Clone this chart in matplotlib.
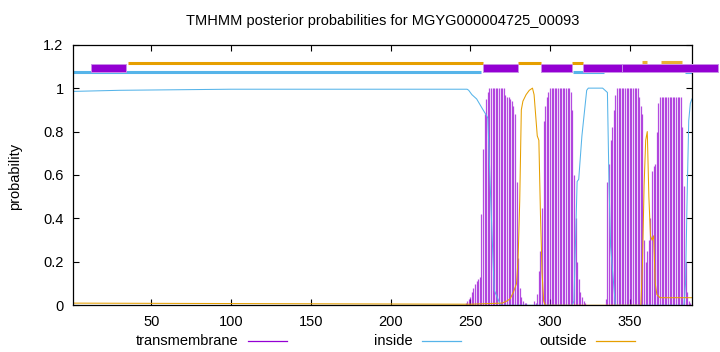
import matplotlib
matplotlib.use("Agg")
import matplotlib.pyplot as plt
from matplotlib.patches import Rectangle
from matplotlib.lines import Line2D

plt.rcParams['font.family'] = ['Liberation Sans', 'DejaVu Sans']

seq_len = 389
title = "TMHMM posterior probabilities for MGYG000004725_00093"

# transmembrane posterior, one value per residue starting at tm_start
tm_start = 245
tm_prob = [0.0, 0.0, 0.01, 0.02, 0.03, 0.04, 0.06, 0.08, 0.10, 0.11,
           0.12, 0.13, 0.42, 0.72, 0.88, 0.95, 0.98, 1.0, 1.0, 1.0,
           1.0, 1.0, 1.0, 1.0, 1.0, 1.0, 1.0, 0.97, 0.96, 0.96,
           0.95, 0.94, 0.92, 0.88, 0.57, 0.22, 0.08, 0.04, 0.02, 0.01,
           0.01, 0.0, 0.0, 0.0, 0.0, 0.02, 0.01, 0.05, 0.16, 0.25,
           0.45, 0.85, 0.92, 0.96, 0.98, 1.0, 1.0, 1.0, 1.0, 1.0,
           1.0, 1.0, 1.0, 1.0, 1.0, 1.0, 1.0, 1.0, 0.98, 0.9,
           0.6, 0.4, 0.2, 0.12, 0.06, 0.04, 0.02, 0.01, 0.0, 0.0,
           0.0, 0.0, 0.0, 0.0, 0.0, 0.0, 0.0, 0.0, 0.0, 0.0,
           0.03, 0.57, 0.65, 0.76, 0.82, 0.9, 0.97, 1.0, 1.0, 1.0,
           1.0, 1.0, 1.0, 1.0, 1.0, 1.0, 1.0, 1.0, 1.0, 1.0,
           1.0, 0.96, 0.92, 0.88, 0.3, 0.2, 0.25, 0.3, 0.4, 0.62,
           0.64, 0.65, 0.8, 0.93, 0.96, 0.96, 0.96, 0.96, 0.96, 0.96,
           0.96, 0.96, 0.96, 0.96, 0.96, 0.96, 0.96, 0.96, 0.82, 0.55,
           0.2, 0.06, 0.02, 0.01]

# inside posterior (residue, probability)
inside_x = [1, 30, 100, 240, 248, 249, 251, 254, 258, 260.5, 261, 263, 265, 269,
            314, 315, 317, 318, 320, 323, 324, 333, 336, 337, 338, 341,
            384, 385, 386, 387, 388, 389]
inside_y = [0.985, 0.99, 0.995, 0.995, 0.995, 0.99, 0.97, 0.95, 0.9, 0.87, 0.86, 0.45, 0.07, 0.0,
            0.0, 0.02, 0.57, 0.58, 0.78, 0.99, 1.0, 1.0, 0.98, 0.56, 0.27, 0.0,
            0.0, 0.1, 0.5, 0.85, 0.93, 0.95]

# outside posterior (residue, probability)
outside_x = [1, 100, 250, 270, 273, 275, 277, 279, 280, 281, 282, 283, 285, 287,
             289, 290, 292, 293, 294, 295, 296, 297, 357, 358, 359, 360, 361,
             362, 363, 364, 365, 366, 367, 369, 389]
outside_y = [0.01, 0.008, 0.005, 0.01, 0.02, 0.03, 0.06, 0.1, 0.22, 0.48, 0.9, 0.94, 0.97, 0.99,
             1.0, 0.97, 0.78, 0.76, 0.42, 0.15, 0.02, 0.0, 0.0, 0.2, 0.55, 0.76, 0.8,
             0.5, 0.32, 0.3, 0.32, 0.1, 0.05, 0.035, 0.035]

# topology annotation along the top
inside_segs = [(1, 256.6), (314.7, 333.6), (384.6, 389)]
outside_segs = [(35.2, 258), (280, 294.5), (314, 320.6)]
outside_hi_segs = [(357.6, 360.7), (369.8, 383)]
tm_boxes = [(12.2, 33.9), (257.9, 279.9), (294.5, 314), (320.6, 361), (345, 405.5)]

c_tm = '#9400D3'
c_in = '#56B4E9'
c_out = '#E69F00'

fig = plt.figure(figsize=(7.2, 3.52), dpi=100)
ax = fig.add_axes([0.1018, 0.1327, 0.8592, 0.7403])

tm_x = list(range(tm_start, tm_start + len(tm_prob)))
ax.vlines(tm_x, 0, tm_prob, color=c_tm, lw=0.9, alpha=0.7)
ax.plot(inside_x, inside_y, color=c_in, lw=0.75)
ax.plot(outside_x, outside_y, color=c_out, lw=0.75)

for a, b in inside_segs:
    ax.plot([a, b], [1.076, 1.076], color=c_in, lw=2.2, solid_capstyle='butt')
for a, b in outside_segs:
    ax.plot([a, b], [1.115, 1.115], color=c_out, lw=2.2, solid_capstyle='butt')
for a, b in outside_hi_segs:
    ax.plot([a, b], [1.12, 1.12], color=c_out, lw=2.2, solid_capstyle='butt', alpha=0.8)
for a, b in tm_boxes:
    ax.add_patch(Rectangle((a, 1.074), b - a, 0.036, facecolor=c_tm,
                           edgecolor='#c88ee8', lw=0.7, clip_on=False, zorder=3))

ax.set_xlim(1, seq_len)
ax.set_ylim(0, 1.2)
ax.set_xticks([50, 100, 150, 200, 250, 300, 350])
ax.set_yticks([0, 0.2, 0.4, 0.6, 0.8, 1.0, 1.2])
ax.set_yticklabels(['0', '0.2', '0.4', '0.6', '0.8', '1', '1.2'])
ax.tick_params(direction='in', top=True, right=True, labelsize=10.5, length=4, pad=7)
for s in ax.spines.values():
    s.set_linewidth(0.9)

ax.set_title(title, fontsize=10.5, pad=14)
fig.text(0.021, 0.5, 'probability', rotation=90, ha='center', va='center', fontsize=10.5)

# legend in gnuplot style under the axis
leg = [('transmembrane', c_tm, 238, 248.3, 286.7),
       ('inside', c_in, 412.7, 422.3, 460.7),
       ('outside', c_out, 586.7, 596, 635.3)]
ly = 1 - 341 / 352
for name, col, tx, x0, x1 in leg:
    fig.text(tx / 720, ly, name, ha='right', va='center', fontsize=10.5)
    fig.add_artist(Line2D([x0 / 720, x1 / 720], [ly, ly], color=col, lw=0.9))

fig.savefig('out.png', dpi=100)
